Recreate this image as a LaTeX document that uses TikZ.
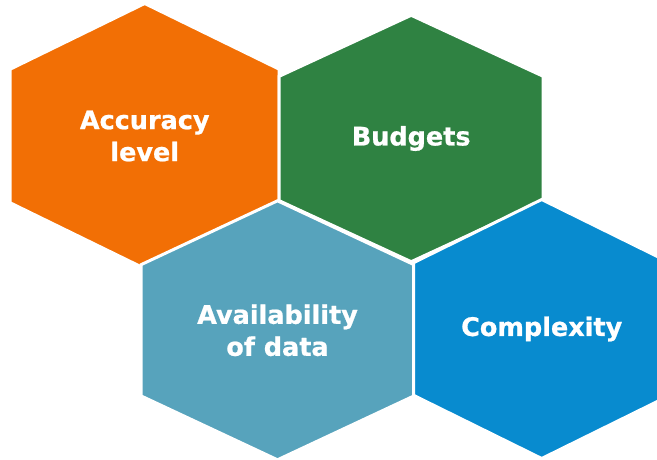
\documentclass[tikz,border=0pt]{standalone}
\usepackage{fontspec}
\newfontfamily\hexfont[FakeBold=0.8]{DejaVu Sans Bold}
\definecolor{hexorange}{HTML}{F26F05}
\definecolor{hexgreen}{HTML}{2F8242}
\definecolor{hexsteel}{HTML}{57A3BC}
\definecolor{hexblue}{HTML}{088BCF}
% #1 name, #2 #3 centre, #4 half width, #5 half height, #6 half side, #7 colour, #8 text
\newcommand{\hexcell}[8]{%
  \filldraw[fill=#7,hexrim]
    (#2,#3-#5) -- (#2+#4,#3-#6) -- (#2+#4,#3+#6) -- (#2,#3+#5)
    -- (#2-#4,#3+#6) -- (#2-#4,#3-#6) -- cycle;
  \node[hexlabel] (#1) at (#2,#3) {#8};
}

\begin{document}
\begin{tikzpicture}[x=1pt,y=-1pt,
  hexrim/.style={draw=white,line width=3pt,line join=miter},
  hexlabel/.style={text=white,align=center,font=\hexfont\fontsize{25.5}{32}\selectfont}]
\useasboundingbox (0,0) rectangle (657,460);
\clip (0,0) rectangle (657,460);

% top row
\hexcell{accuracy}{144.7}{136}{134.5}{132.5}{66.8}{hexorange}{Accuracy\\level}
\hexcell{budgets}{411.2}{138.5}{132}{123.2}{62.2}{hexgreen}{Budgets}

% bottom row
\hexcell{availability}{277.5}{330.3}{136.5}{129.5}{65.6}{hexsteel}{Availability\\of data}
\hexcell{complexity}{541.7}{329}{128.2}{129.5}{66.3}{hexblue}{Complexity}
\end{tikzpicture}
\end{document}
